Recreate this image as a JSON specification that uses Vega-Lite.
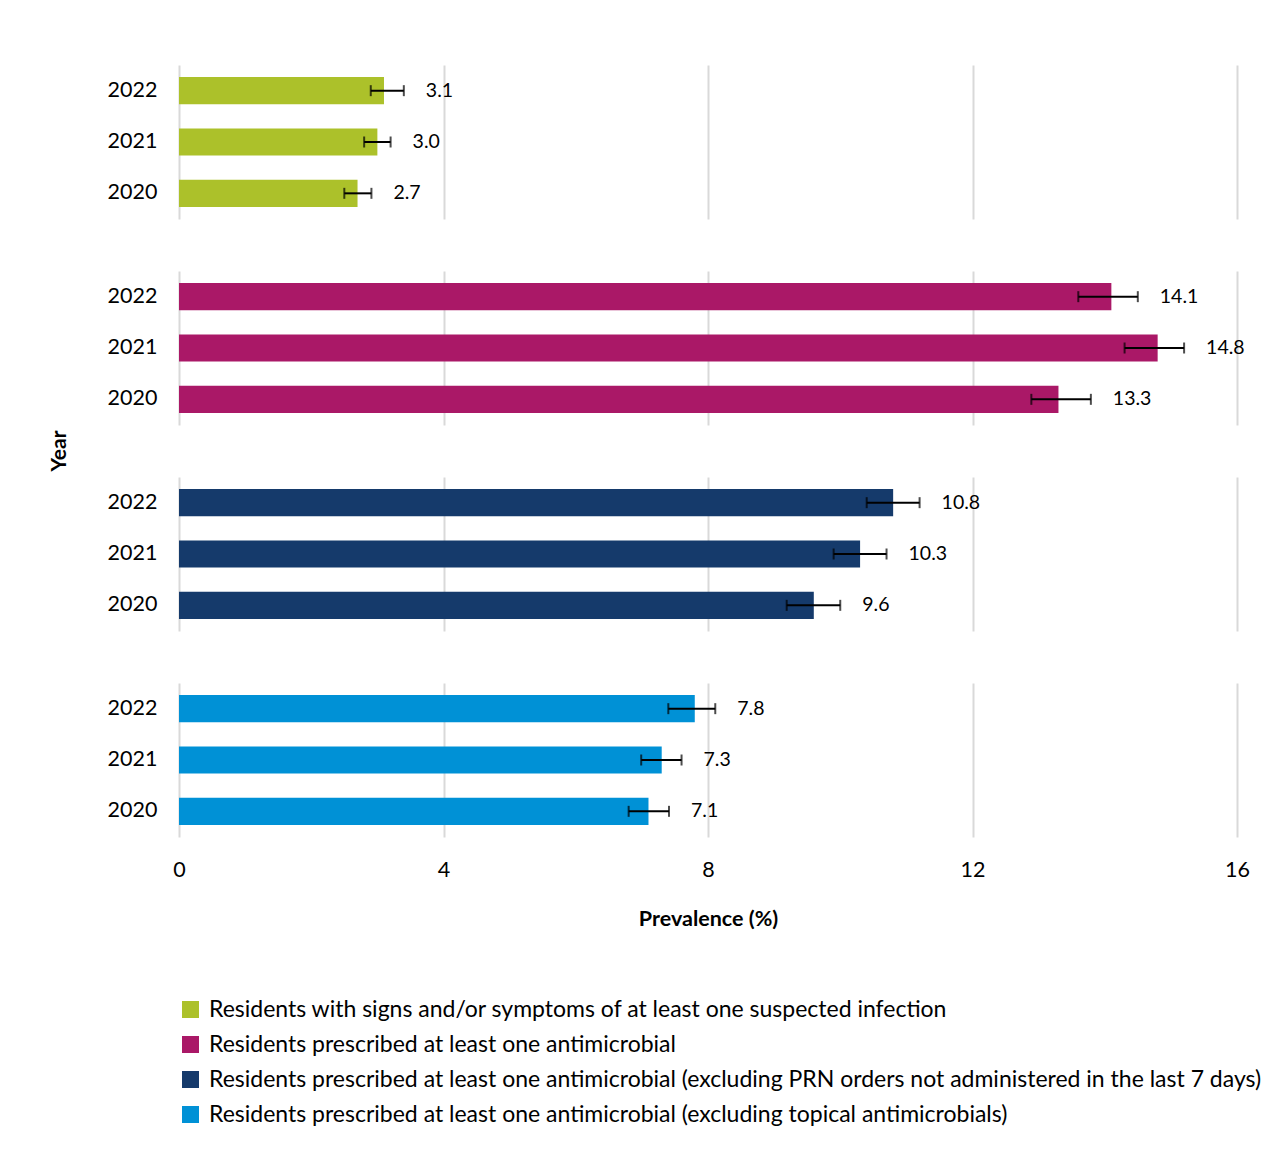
{
  "$schema": "https://vega.github.io/schema/vega-lite/v6.json",
  "padding": {"left": 49, "top": 65, "right": 20, "bottom": 20},
  "data": {"values": [
    {"cat": "Residents with signs and/or symptoms of at least one suspected infection", "year": "2022", "value": 3.1, "lo": 2.9, "hi": 3.4},
    {"cat": "Residents with signs and/or symptoms of at least one suspected infection", "year": "2021", "value": 3.0, "lo": 2.8, "hi": 3.2},
    {"cat": "Residents with signs and/or symptoms of at least one suspected infection", "year": "2020", "value": 2.7, "lo": 2.5, "hi": 2.91},
    {"cat": "Residents prescribed at least one antimicrobial", "year": "2022", "value": 14.1, "lo": 13.6, "hi": 14.5},
    {"cat": "Residents prescribed at least one antimicrobial", "year": "2021", "value": 14.8, "lo": 14.3, "hi": 15.2},
    {"cat": "Residents prescribed at least one antimicrobial", "year": "2020", "value": 13.3, "lo": 12.89, "hi": 13.79},
    {"cat": "Residents prescribed at least one antimicrobial (excluding PRN orders not administered in the last 7 days)", "year": "2022", "value": 10.8, "lo": 10.4, "hi": 11.2},
    {"cat": "Residents prescribed at least one antimicrobial (excluding PRN orders not administered in the last 7 days)", "year": "2021", "value": 10.3, "lo": 9.9, "hi": 10.7},
    {"cat": "Residents prescribed at least one antimicrobial (excluding PRN orders not administered in the last 7 days)", "year": "2020", "value": 9.6, "lo": 9.19, "hi": 10.0},
    {"cat": "Residents prescribed at least one antimicrobial (excluding topical antimicrobials)", "year": "2022", "value": 7.8, "lo": 7.4, "hi": 8.11},
    {"cat": "Residents prescribed at least one antimicrobial (excluding topical antimicrobials)", "year": "2021", "value": 7.3, "lo": 6.99, "hi": 7.6},
    {"cat": "Residents prescribed at least one antimicrobial (excluding topical antimicrobials)", "year": "2020", "value": 7.1, "lo": 6.8, "hi": 7.41}
  ]},
  "facet": {
    "row": {
      "field": "cat", "type": "nominal",
      "sort": [
        "Residents with signs and/or symptoms of at least one suspected infection",
        "Residents prescribed at least one antimicrobial",
        "Residents prescribed at least one antimicrobial (excluding PRN orders not administered in the last 7 days)",
        "Residents prescribed at least one antimicrobial (excluding topical antimicrobials)"
      ],
      "header": {"labels": false, "title": "Year", "titleFont": "Lato", "titleFontSize": 21, "titleFontWeight": "bold", "titleColor": "#000000", "titlePadding": 27}
    }
  },
  "spacing": {"row": 52},
  "spec": {
    "width": 1058,
    "height": 154,
    "encoding": {
      "y": {"field": "year", "type": "nominal", "sort": ["2022", "2021", "2020"],
        "scale": {"paddingInner": 0.47, "paddingOuter": 0.235},
        "axis": {"title": null, "labelFont": "Lato", "labelFontSize": 21.5, "labelColor": "#000000", "ticks": false, "domain": false, "labelPadding": 22}}
    },
    "layer": [
      {
        "mark": {"type": "bar"},
        "encoding": {
          "x": {"field": "value", "type": "quantitative",
            "scale": {"domain": [0, 16], "nice": false},
            "axis": {"values": [0, 4, 8, 12, 16], "format": "d", "labelFlush": false, "title": "Prevalence (%)", "titleFont": "Lato", "titleFontSize": 21.5, "titleFontWeight": "bold", "titleColor": "#000000", "titlePadding": 28,
              "labelFont": "Lato", "labelFontSize": 21.5, "labelColor": "#000000", "labelPadding": 22, "ticks": false, "domain": false,
              "grid": true, "gridColor": "#d9d9d9", "gridWidth": 2}},
          "color": {"field": "cat", "type": "nominal",
            "sort": [
              "Residents with signs and/or symptoms of at least one suspected infection",
              "Residents prescribed at least one antimicrobial",
              "Residents prescribed at least one antimicrobial (excluding PRN orders not administered in the last 7 days)",
              "Residents prescribed at least one antimicrobial (excluding topical antimicrobials)"
            ],
            "scale": {"range": ["#acc12a", "#aa1867", "#153a6b", "#0091d6"]},
            "legend": {"title": null, "orient": "bottom", "direction": "vertical", "columns": 1, "symbolType": "square", "symbolSize": 289, "symbolStrokeWidth": 0,
              "labelFont": "Lato", "labelFontSize": 23, "labelColor": "#000000", "labelOffset": 7, "rowPadding": 11, "labelLimit": 1200, "offset": 68}}
        }
      },
      {
        "mark": {"type": "rule", "color": "#000000", "strokeWidth": 2},
        "encoding": {"x": {"field": "lo", "type": "quantitative"}, "x2": {"field": "hi"}}
      },
      {
        "mark": {"type": "tick", "color": "#000000", "thickness": 2, "size": 11},
        "encoding": {"x": {"field": "lo", "type": "quantitative"}}
      },
      {
        "mark": {"type": "tick", "color": "#000000", "thickness": 2, "size": 11},
        "encoding": {"x": {"field": "hi", "type": "quantitative"}}
      },
      {
        "mark": {"type": "text", "align": "left", "baseline": "middle", "dx": 22, "font": "Lato", "fontSize": 19.5, "color": "#000000"},
        "encoding": {"x": {"field": "hi", "type": "quantitative"}, "text": {"field": "value", "type": "quantitative", "format": ".1f"}}
      }
    ]
  },
  "config": {"view": {"stroke": null}, "background": "#ffffff"}
}
